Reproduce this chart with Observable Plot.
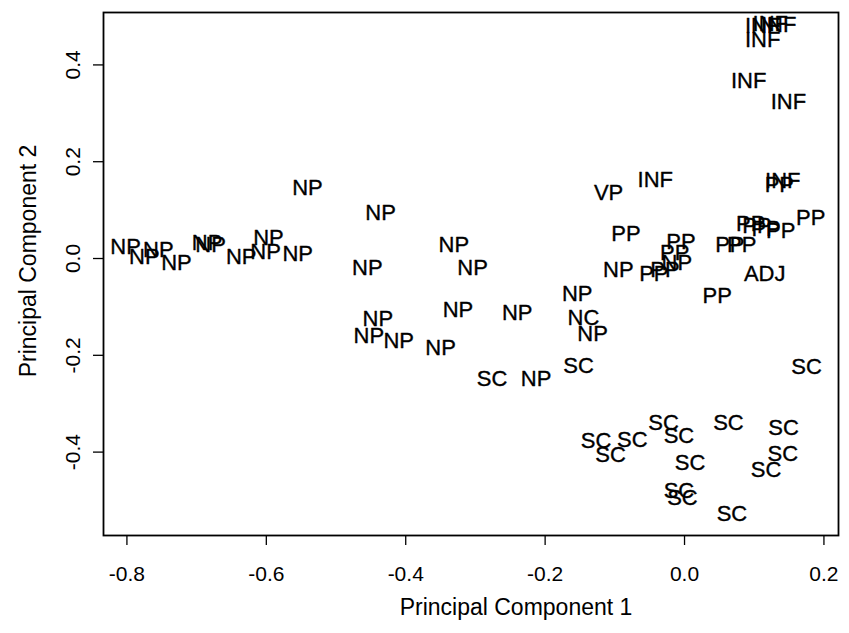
<!DOCTYPE html>
<html>
<head>
<meta charset="utf-8">
<script src="https://cdn.jsdelivr.net/npm/d3@7"></script>
<script src="https://cdn.jsdelivr.net/npm/@observablehq/plot@0.6"></script>
<style>
  html, body { margin: 0; padding: 0; background: #fff; }
</style>
</head>
<body>
<div id="chart"></div>
<script>
// Tick values
const xTicks = [-0.8, -0.6, -0.4, -0.2, 0.0, 0.2];
const yTicks = [-0.4, -0.2, 0.0, 0.2, 0.4];

// Point coordinates [PC1, PC2] by class label
const NP = [
  [-0.802, 0.023], [-0.775, 0.004], [-0.755, 0.018], [-0.729, -0.010],
  [-0.685, 0.033], [-0.680, 0.027], [-0.636, 0.004], [-0.597, 0.043],
  [-0.601, 0.014], [-0.555, 0.010], [-0.541, 0.146], [-0.436, 0.095],
  [-0.455, -0.020], [-0.331, 0.027], [-0.304, -0.020], [-0.325, -0.107],
  [-0.440, -0.124], [-0.453, -0.159], [-0.410, -0.170], [-0.350, -0.184],
  [-0.240, -0.113], [-0.213, -0.248], [-0.154, -0.073], [-0.132, -0.155],
  [-0.095, -0.024], [-0.011, -0.010]
];
const NC = [[-0.145, -0.122]];
const SC = [
  [-0.276, -0.248], [-0.152, -0.221], [-0.127, -0.376], [-0.106, -0.405],
  [-0.075, -0.374], [-0.030, -0.340], [-0.008, -0.366], [0.008, -0.423],
  [0.063, -0.340], [0.142, -0.350], [0.141, -0.403], [0.117, -0.436],
  [-0.008, -0.480], [-0.003, -0.494], [0.068, -0.527], [0.175, -0.225]
];
const VP = [[-0.109, 0.136]];
const INF = [
  [-0.042, 0.162], [0.092, 0.366], [0.149, 0.324], [0.112, 0.480],
  [0.123, 0.484], [0.135, 0.482], [0.112, 0.452], [0.141, 0.160]
];
const PP = [
  [-0.084, 0.051], [-0.044, -0.031], [-0.028, -0.024], [-0.005, 0.035],
  [-0.014, 0.012], [0.047, -0.077], [0.065, 0.029], [0.082, 0.029],
  [0.095, 0.071], [0.104, 0.067], [0.117, 0.062], [0.138, 0.056],
  [0.181, 0.083], [0.136, 0.152]
];
const ADJ = [[0.115, -0.031]];

const groups = {NP, NC, SC, VP, INF, PP, ADJ};
const points = Object.entries(groups).flatMap(([label, arr]) =>
  arr.map(([x, y]) => ({label, x, y}))
);

const fmt = d => d.toFixed(1);

const chart = Plot.plot({
  width: 849,
  height: 633,
  marginLeft: 103,
  marginRight: 11,
  marginTop: 12,
  marginBottom: 98,
  style: {fontFamily: "'Liberation Sans', Arial, Helvetica, sans-serif", background: "#fff", color: "#000"},
  x: {domain: [-0.8336, 0.2209]},
  y: {domain: [-0.5723, 0.5083]},
  marks: [
    Plot.frame({stroke: "#000", strokeWidth: 1.8}),
    Plot.axisX({ticks: xTicks, tickFormat: fmt, tickSize: 10, tickPadding: 21, fontSize: 21, strokeWidth: 1.3, label: null}),
    Plot.axisY({ticks: yTicks, tickFormat: fmt, tickSize: 10, tickPadding: 14, tickRotate: -90, fontSize: 21, strokeWidth: 1.3, label: null}),
    Plot.text(points, {x: "x", y: "y", text: "label", fontSize: 22, fill: "#000", stroke: "#000", strokeWidth: 0.35}),
    Plot.text(["Principal Component 1"], {frameAnchor: "bottom", lineAnchor: "middle", textAnchor: "middle", dx: 45, dy: 72, text: d => d, fontSize: 23, fill: "#000"}),
    Plot.text(["Principal Component 2"], {frameAnchor: "left", lineAnchor: "middle", textAnchor: "middle", dx: -75, dy: -13, rotate: -90, text: d => d, fontSize: 23, fill: "#000"})
  ]
});
document.getElementById("chart").appendChild(chart);
</script>
</body>
</html>
